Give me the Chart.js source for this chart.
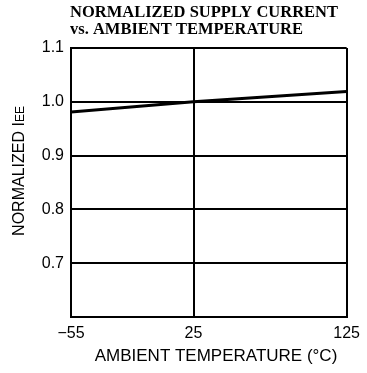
<!DOCTYPE html>
<html>
<head>
<meta charset="utf-8">
<script src="https://cdn.jsdelivr.net/npm/chart.js@4/dist/chart.umd.min.js"></script>
<style>
  html, body { margin: 0; padding: 0; background: #fff; }
  #wrap { width: 367px; height: 373px; }
</style>
</head>
<body>
<div id="wrap"><canvas id="chart" width="367" height="373"></canvas></div>
<script>
// Data
var temps = [-55, 25, 125];
var normIee = [0.981, 1.0, 1.019];
var xTicks = [-55, 25, 125];
var yTicks = [0.6, 0.7, 0.8, 0.9, 1.0, 1.1];
var titleLines = ['NORMALIZED SUPPLY CURRENT', 'vs. AMBIENT TEMPERATURE'];
var xTitle = 'AMBIENT TEMPERATURE (\u00B0C)';
var yTitle = 'NORMALIZED I';
var yTitleSub = 'EE';

var sans = '"Liberation Sans", Arial, sans-serif';

// chart title at the left edge of the plot, the x title and the rotated y title
var textPlugin = {
    id: 'extraText',
    afterDraw: function(chart) {
        var c = chart.ctx;
        var area = chart.chartArea;
        c.save();
        c.fillStyle = '#000';
        c.font = 'bold 16.5px "Liberation Serif", "Times New Roman", serif';
        c.textBaseline = 'alphabetic';
        c.textAlign = 'left';
        c.fillText(titleLines[0], area.left - 1, 17);
        c.fillText(titleLines[1], area.left - 1, 34);

        // x axis title, a bit right of the plot centre like the original
        c.font = '17px ' + sans;
        c.textAlign = 'center';
        c.fillText(xTitle, 216, 361);
        c.textAlign = 'left';

        // y axis title, rotated
        c.translate(24, 171);
        c.rotate(-Math.PI / 2);
        c.font = '16px ' + sans;
        var w1 = c.measureText(yTitle).width;
        c.font = '12px ' + sans;
        var w2 = c.measureText(yTitleSub).width;
        var x0 = -(w1 + w2) / 2;
        c.font = '16px ' + sans;
        c.fillText(yTitle, x0, 0);
        c.font = '12px ' + sans;
        c.fillText(yTitleSub, x0 + w1, 0);
        c.restore();
    }
};

var ctx = document.getElementById('chart').getContext('2d');

var myChart = new Chart(ctx, {
    type: 'line',
    data: {
        datasets: [{
            data: temps.map(function(t, i) { return { x: t, y: normIee[i] }; }),
            borderColor: '#000',
            borderWidth: 3,
            pointRadius: 0,
            tension: 0,
            fill: false
        }]
    },
    options: {
        responsive: false,
        animation: false,
        layout: { padding: { top: 48, left: 0, right: 19, bottom: 0 } },
        plugins: {
            legend: { display: false },
            tooltip: { enabled: false },
            title: { display: false }
        },
        scales: {
            x: {
                type: 'linear',
                min: -55,
                max: 125,
                afterBuildTicks: function(axis) {
                    axis.ticks = xTicks.map(function(v) { return { value: v }; });
                },
                afterFit: function(axis) { axis.height = 56; },
                ticks: {
                    color: '#000',
                    font: { family: sans, size: 16 },
                    padding: 7,
                    maxRotation: 0,
                    callback: function(v) { return v < 0 ? '\u2212' + Math.abs(v) : String(v); }
                },
                grid: { color: '#000', lineWidth: 2, drawTicks: false },
                border: { color: '#000', width: 2 }
            },
            y: {
                min: 0.6,
                max: 1.1,
                afterBuildTicks: function(axis) {
                    axis.ticks = yTicks.map(function(v) { return { value: v }; });
                },
                afterFit: function(axis) { axis.width = 71; },
                ticks: {
                    color: '#000',
                    font: { family: sans, size: 16 },
                    padding: 7,
                    callback: function(v) { return v < 0.65 ? '' : v.toFixed(1); }
                },
                grid: { color: '#000', lineWidth: 2, drawTicks: false },
                border: { color: '#000', width: 2 }
            }
        }
    },
    plugins: [textPlugin]
});
</script>
</body>
</html>
